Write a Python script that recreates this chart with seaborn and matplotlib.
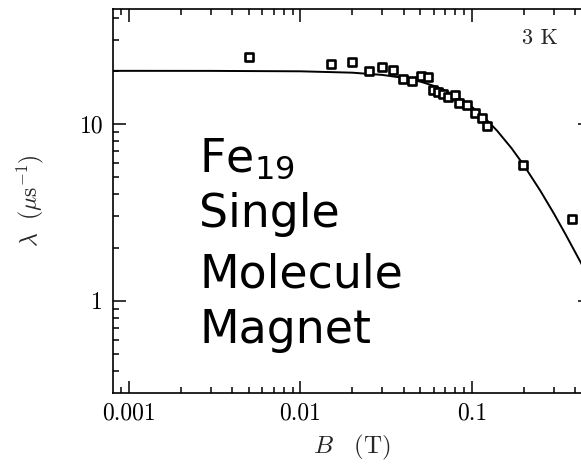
import matplotlib
matplotlib.use("Agg")
import matplotlib.pyplot as plt
import seaborn as sns
import pandas as pd
from matplotlib.ticker import LogLocator, FuncFormatter, NullFormatter

# Measured relaxation rate vs applied field (3 K)
field_T = [0.0050, 0.0150, 0.0200, 0.0250, 0.0299, 0.0348, 0.0398, 0.0445,
           0.0502, 0.0555, 0.0595, 0.0636, 0.0680, 0.0728, 0.0800, 0.0835,
           0.0940, 0.1040, 0.1138, 0.1228, 0.1980, 0.3850]
lambda_us = [23.8, 21.8, 22.5, 20.0, 20.9, 20.1, 17.9, 17.6,
             18.7, 18.5, 15.5, 15.1, 14.8, 14.3, 14.6, 13.2,
             12.8, 11.6, 10.8, 9.75, 5.86, 2.90]

# Fitted curve
fit_B = [0.0008, 0.001, 0.003, 0.01, 0.02, 0.03, 0.04, 0.05, 0.06, 0.07,
         0.08, 0.09, 0.10, 0.12, 0.14, 0.17, 0.20, 0.25, 0.30, 0.35,
         0.40, 0.45, 0.50]
fit_lambda = [20.0, 20.0, 19.99, 19.88, 19.53, 18.97, 18.24, 17.38, 16.44,
              15.45, 14.44, 13.45, 12.49, 10.71, 9.17, 7.30, 5.87, 4.20,
              3.12, 2.39, 1.88, 1.52, 1.25]

x_ticks = [0.001, 0.01, 0.1]
x_tick_labels = ["0.001", "0.01", "0.1"]
y_ticks = [1, 10]
y_tick_labels = ["1", "10"]

sns.set_theme(style="ticks")
plt.rcParams["font.family"] = "serif"
plt.rcParams["font.serif"] = ["cmr10", "DejaVu Serif"]
plt.rcParams["mathtext.fontset"] = "cm"
plt.rcParams["axes.formatter.use_mathtext"] = True

W, H = 581, 472
fig = plt.figure(figsize=(W / 100, H / 100), dpi=100)
ax = fig.add_axes([113 / W, 79 / H, 477 / W, 384 / H])

data = pd.DataFrame({"B": field_T, "lam": lambda_us})
fit = pd.DataFrame({"B": fit_B, "lam": fit_lambda})

sns.lineplot(data=fit, x="B", y="lam", ax=ax, color="black", lw=1.4,
             sort=False, estimator=None)
sns.scatterplot(data=data, x="B", y="lam", ax=ax, marker="s", s=30,
                facecolor="white", edgecolor="black", linewidth=1.9, zorder=3)

ax.set_xscale("log")
ax.set_yscale("log")
ax.set_xlim(10 ** -3.093, 10 ** -0.312)
ax.set_ylim(10 ** -0.522, 10 ** 1.651)

ax.xaxis.set_major_locator(LogLocator(base=10))
ax.xaxis.set_minor_locator(LogLocator(base=10, subs=range(2, 10)))
ax.yaxis.set_major_locator(LogLocator(base=10))
ax.yaxis.set_minor_locator(LogLocator(base=10, subs=range(2, 10)))
xl = dict(zip(x_ticks, x_tick_labels))
yl = dict(zip(y_ticks, y_tick_labels))
ax.xaxis.set_major_formatter(FuncFormatter(
    lambda v, p: next((s for k, s in xl.items() if abs(v / k - 1) < 1e-6), "")))
ax.yaxis.set_major_formatter(FuncFormatter(
    lambda v, p: next((s for k, s in yl.items() if abs(v / k - 1) < 1e-6), "")))
ax.xaxis.set_minor_formatter(NullFormatter())
ax.yaxis.set_minor_formatter(NullFormatter())

ax.tick_params(which="both", direction="in", top=True, right=True,
               colors="black", width=1.1, labelsize=17)
ax.tick_params(which="major", length=9, pad=7)
ax.tick_params(which="minor", length=4.5)
for s in ax.spines.values():
    s.set_color("black")
    s.set_linewidth(1.2)

ax.set_xlabel(r"$B\quad({\rm T})$", fontsize=18, labelpad=6)
ax.set_ylabel(r"$\lambda\ \ (\mu{\rm s}^{-1})$", fontsize=17, labelpad=24)

ax.text(540 / W, 1 - 38 / H, "3 K", transform=fig.transFigure,
        ha="center", va="center", fontsize=16, family="cmr10")

sans = ["DejaVu Sans"]
lines = [("Fe$_{19}$", 172), ("Single", 227), ("Molecule", 287), ("Magnet", 343)]
for txt, yb in lines:
    fig.text(199 / W, 1 - yb / H, txt, ha="left", va="baseline",
             fontsize=33, family=sans, math_fontfamily="dejavusans",
             color="black")

fig.savefig("out.png", dpi=100)
